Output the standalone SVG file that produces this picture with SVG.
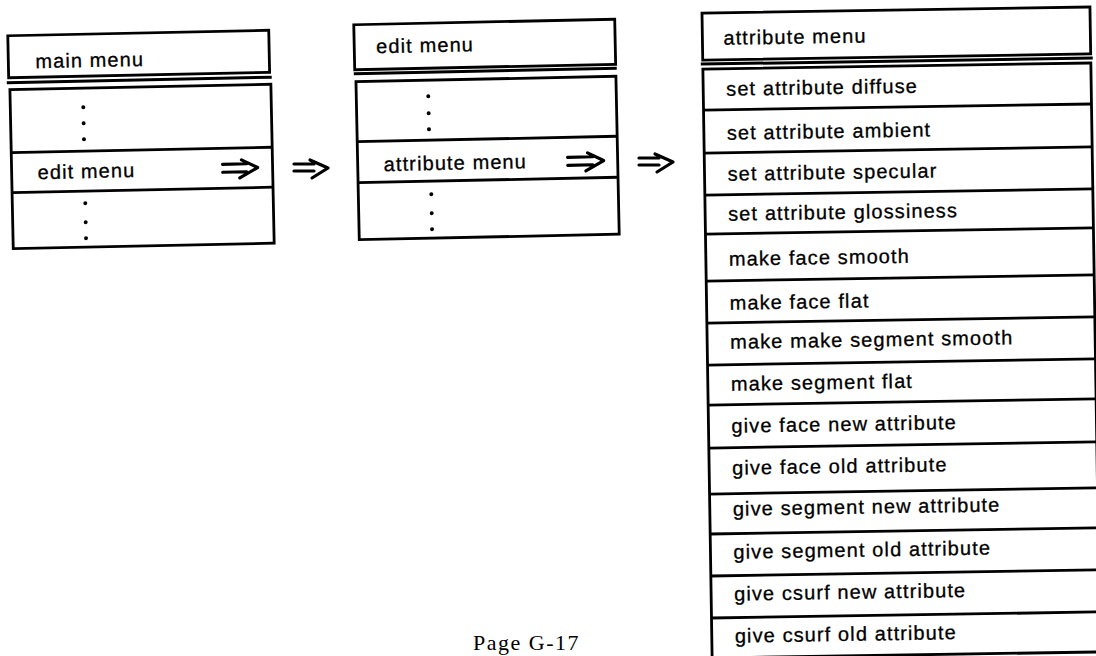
<svg xmlns="http://www.w3.org/2000/svg" width="1096" height="656" viewBox="0 0 1096 656">
<style>
.box{fill:none;stroke:#000;stroke-width:2.8}
.ln{stroke:#000;stroke-width:2.8;fill:none}
.sep{stroke:#000;stroke-width:3}
.t{font-family:"Liberation Sans",Arial,sans-serif;font-size:20px;letter-spacing:1.1px;fill:#000;stroke:#000;stroke-width:0.3}
.dot{fill:#000}
.arr{fill:none;stroke:#000;stroke-width:3.2;stroke-linecap:round;stroke-linejoin:round}
.pg{font-family:"Liberation Serif","Times New Roman",serif;font-size:22px;letter-spacing:1.5px;fill:#000}
</style>
<rect width="1096" height="656" fill="#fff"/>
<g id="main-menu" transform="rotate(-1.2 140 140)">
<rect class="box" x="10" y="33" width="261" height="42"/>
<text class="t" x="37" y="66">main menu</text>
<line class="sep" x1="8" y1="80" x2="273" y2="80"/>
<rect class="box" x="11" y="87" width="261" height="159"/>
<line class="ln" x1="11" y1="150" x2="272" y2="150"/>
<line class="ln" x1="11" y1="190" x2="272" y2="190"/>
<circle class="dot" cx="84" cy="106" r="2"/><circle class="dot" cx="84" cy="122" r="2"/><circle class="dot" cx="84" cy="138" r="2"/>
<text class="t" x="37" y="177">edit menu</text>
<path class="arr" d="M222 166H246M222 174H246M241 162L257 170L239 180"/>
<circle class="dot" cx="84" cy="202" r="2"/><circle class="dot" cx="84" cy="221" r="2"/><circle class="dot" cx="84" cy="237" r="2"/>
</g>
<g id="edit-menu" transform="rotate(-1.2 486 130)">
<rect class="box" x="356" y="22" width="261" height="45"/>
<text class="t" x="378" y="51">edit menu</text>
<line class="sep" x1="355" y1="71" x2="618" y2="71"/>
<rect class="box" x="357" y="79" width="260" height="158"/>
<line class="ln" x1="357" y1="139" x2="617" y2="139"/>
<line class="ln" x1="357" y1="180" x2="617" y2="180"/>
<circle class="dot" cx="429" cy="95" r="2"/><circle class="dot" cx="429" cy="112" r="2"/><circle class="dot" cx="429" cy="128" r="2"/>
<text class="t" x="383" y="169">attribute menu</text>
<path class="arr" d="M567 159H592M567 167H592M587 155L603 163L585 173"/>
<circle class="dot" cx="430" cy="193" r="2"/><circle class="dot" cx="430" cy="212" r="2"/><circle class="dot" cx="430" cy="228" r="2"/>
</g>
<g id="attribute-menu" transform="rotate(-0.9 901 330)">
<rect class="box" x="707" y="10" width="388" height="47"/>
<text class="t" x="728" y="42">attribute menu</text>
<line class="sep" x1="705" y1="61" x2="1097" y2="61"/>
<rect class="box" x="707" y="66" width="388" height="589"/>
<line class="ln" x1="707" y1="107" x2="1095" y2="107"/>
<line class="ln" x1="707" y1="150" x2="1095" y2="150"/>
<line class="ln" x1="707" y1="192" x2="1095" y2="192"/>
<line class="ln" x1="707" y1="231" x2="1095" y2="231"/>
<line class="ln" x1="707" y1="278" x2="1095" y2="278"/>
<line class="ln" x1="707" y1="320" x2="1095" y2="320"/>
<line class="ln" x1="707" y1="362" x2="1095" y2="362"/>
<line class="ln" x1="707" y1="402" x2="1095" y2="402"/>
<line class="ln" x1="707" y1="445" x2="1095" y2="445"/>
<line class="ln" x1="707" y1="491" x2="1095" y2="491"/>
<line class="ln" x1="707" y1="531" x2="1095" y2="531"/>
<line class="ln" x1="707" y1="573" x2="1095" y2="573"/>
<line class="ln" x1="707" y1="615" x2="1095" y2="615"/>
<text class="t" x="730" y="93">set attribute diffuse</text>
<text class="t" x="730" y="137">set attribute ambient</text>
<text class="t" x="730" y="178">set attribute specular</text>
<text class="t" x="730" y="218">set attribute glossiness</text>
<text class="t" x="730" y="263">make face smooth</text>
<text class="t" x="730" y="307">make face flat</text>
<text class="t" x="730" y="346">make make segment smooth</text>
<text class="t" x="730" y="388">make segment flat</text>
<text class="t" x="730" y="430">give face new attribute</text>
<text class="t" x="730" y="472">give face old attribute</text>
<text class="t" x="730" y="513">give segment new attribute</text>
<text class="t" x="730" y="556">give segment old attribute</text>
<text class="t" x="730" y="598">give csurf new attribute</text>
<text class="t" x="730" y="640">give csurf old attribute</text>
</g>
<g id="connectors">
<path class="arr" d="M294 164H314M294 171H314M310 160L328 168L312 178"/>
<path class="arr" d="M639 158H659M639 165H659M655 154L673 162L657 172"/>
</g>
<text class="pg" x="473" y="650">Page G-17</text>
</svg>
